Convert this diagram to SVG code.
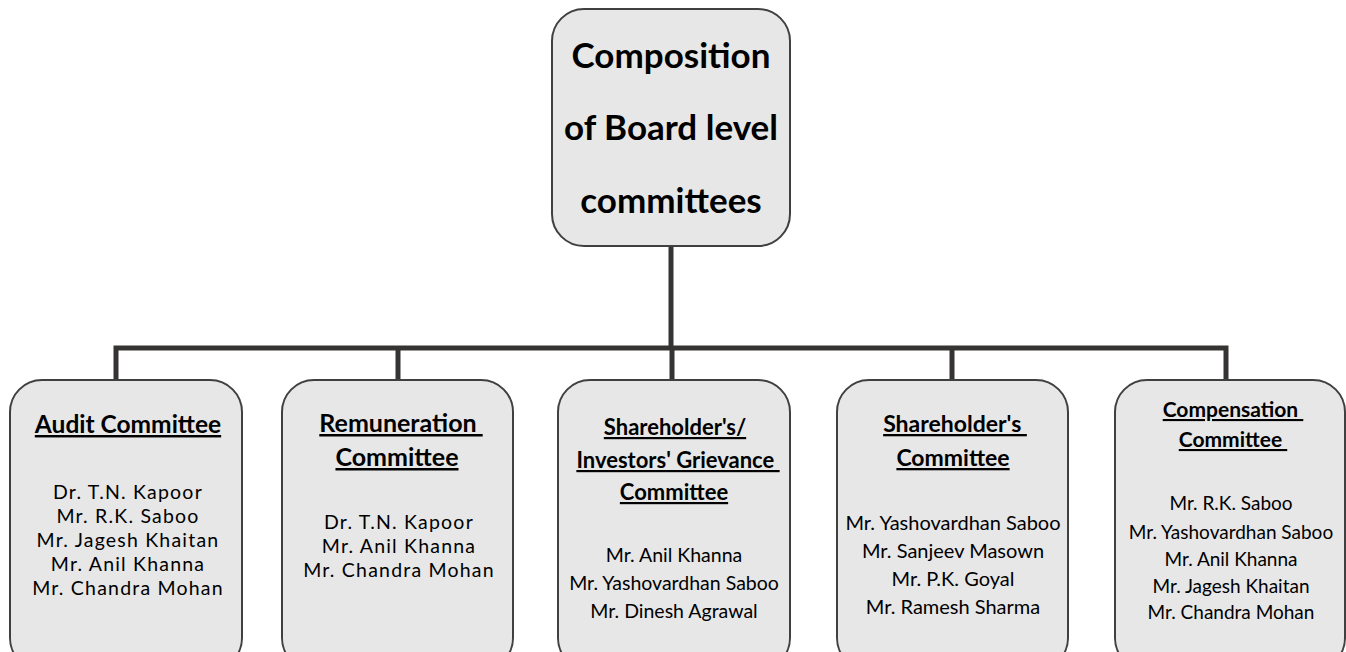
<svg xmlns="http://www.w3.org/2000/svg" width="1346" height="652" viewBox="0 0 1346 652">
<style>
.box{fill:#e7e7e7;stroke:#404040;stroke-width:2}
.conn{fill:none;stroke:#363333;stroke-width:5}
text{font-family:Lato,"Liberation Sans",sans-serif;fill:#000;text-anchor:middle}
.main{font-size:35px;font-weight:bold}
.ttl{font-weight:bold;text-decoration:underline}
.nm{font-size:19.5px;letter-spacing:1.2px}
</style>
<rect width="1346" height="652" fill="#fff"/>
<g id="connectors">
<path class="conn" d="M671 246 V348"/>
<path class="conn" d="M116 380 V348 H1226 V380"/>
<path class="conn" d="M398 348 V380"/>
<path class="conn" d="M672 348 V380"/>
<path class="conn" d="M952 348 V380"/>
</g>
<g id="root">
<rect class="box" x="552" y="9" width="238" height="237" rx="32"/>
<text class="main" x="671" y="68">Composition</text>
<text class="main" x="671" y="140">of Board level</text>
<text class="main" x="671" y="213">committees</text>
</g>
<g id="audit">
<rect class="box" x="10" y="380" width="232" height="290" rx="32"/>
<text class="ttl" x="128" y="433" font-size="24.5">Audit Committee</text>
<text class="nm" x="128" y="499">Dr. T.N. Kapoor</text>
<text class="nm" x="128" y="523">Mr. R.K. Saboo</text>
<text class="nm" x="128" y="547">Mr. Jagesh Khaitan</text>
<text class="nm" x="128" y="571">Mr. Anil Khanna</text>
<text class="nm" x="128" y="595">Mr. Chandra Mohan</text>
</g>
<g id="remuneration">
<rect class="box" x="282" y="380" width="231" height="290" rx="32"/>
<text class="ttl" x="401" y="432" font-size="25" xml:space="preserve">Remuneration </text>
<text class="ttl" x="397" y="466" font-size="25">Committee</text>
<text class="nm" x="399" y="529">Dr. T.N. Kapoor</text>
<text class="nm" x="399" y="553">Mr. Anil Khanna</text>
<text class="nm" x="399" y="577">Mr. Chandra Mohan</text>
</g>
<g id="grievance">
<rect class="box" x="558" y="380" width="232" height="290" rx="32"/>
<text class="ttl" x="675" y="435" font-size="22">Shareholder's/</text>
<text class="ttl" x="678" y="468" font-size="22" xml:space="preserve">Investors' Grievance </text>
<text class="ttl" x="674" y="500" font-size="22">Committee</text>
<g font-size="19.5">
<text x="674" y="562">Mr. Anil Khanna</text>
<text x="674" y="590">Mr. Yashovardhan Saboo</text>
<text x="674" y="618">Mr. Dinesh Agrawal</text>
</g>
</g>
<g id="shareholders">
<rect class="box" x="837" y="380" width="231" height="290" rx="32"/>
<text class="ttl" x="955" y="432" font-size="23" xml:space="preserve">Shareholder's </text>
<text class="ttl" x="953" y="466" font-size="23">Committee</text>
<g font-size="20">
<text x="953" y="530">Mr. Yashovardhan Saboo</text>
<text x="953" y="558">Mr. Sanjeev Masown</text>
<text x="953" y="586">Mr. P.K. Goyal</text>
<text x="953" y="614">Mr. Ramesh Sharma</text>
</g>
</g>
<g id="compensation">
<rect class="box" x="1115" y="380" width="230" height="290" rx="32"/>
<text class="ttl" x="1233" y="417" font-size="21" xml:space="preserve">Compensation </text>
<text class="ttl" x="1233" y="447" font-size="21" xml:space="preserve">Committee </text>
<g font-size="19">
<text x="1231" y="510">Mr. R.K. Saboo</text>
<text x="1231" y="539">Mr. Yashovardhan Saboo</text>
<text x="1231" y="566">Mr. Anil Khanna</text>
<text x="1231" y="593">Mr. Jagesh Khaitan</text>
<text x="1231" y="619">Mr. Chandra Mohan</text>
</g>
</g>
</svg>
